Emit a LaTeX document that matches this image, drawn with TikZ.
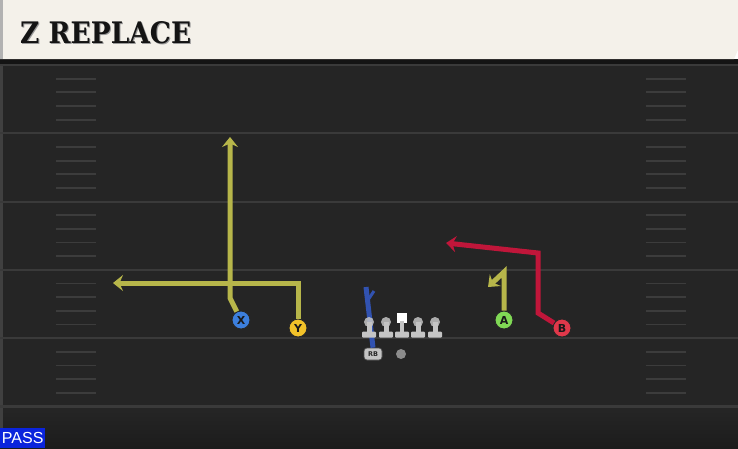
\documentclass[tikz,border=0pt]{standalone}
\usepackage{fontspec}
\setmainfont{DejaVu Sans}
\newfontfamily\titlefont{DejaVu Serif}
\newfontfamily\tagfont{Liberation Sans}
\usepackage{tikz}
\usetikzlibrary{arrows.meta}
\definecolor{fieldgray}{HTML}{252525}
\definecolor{fielddark}{HTML}{1C1C1C}
\definecolor{yardline}{HTML}{3A3A3A}
\definecolor{hashgray}{HTML}{3C3C3C}
\definecolor{cream}{HTML}{F4F1EA}
\definecolor{routeolive}{HTML}{B7B64A}
\definecolor{routered}{HTML}{C0163A}
\definecolor{routeblue}{HTML}{3152B0}
\definecolor{xblue}{HTML}{3C7FDD}
\definecolor{yyellow}{HTML}{F2C229}
\definecolor{agreen}{HTML}{80D955}
\definecolor{bred}{HTML}{E0384A}
\definecolor{passblue}{HTML}{0B24DC}
\definecolor{linegray}{HTML}{C4C4C4}
\tikzset{
  route/.style={line width=5pt,line join=miter,-{Stealth[length=10pt,width=16pt,inset=3.5pt]}},
  player/.style={circle,draw=black!85,line width=0.9pt,minimum size=18pt,inner sep=0pt,
    text=black!90,font=\bfseries\fontsize{11}{11}\selectfont},
  hashmark/.style={draw=hashgray,line width=1.8pt},
  lineman/.style={fill=linegray,draw=none}
}

\begin{document}
\begin{tikzpicture}[x=1pt,y=-1pt]
  \useasboundingbox (0,0) rectangle (738,448);
  % field
  \fill[fieldgray] (0,59) rectangle (738,410);
  \shade[top color=fieldgray,bottom color=fielddark] (0,410) rectangle (738,448);
  \fill[black!92] (0,59) rectangle (738,65);
  \fill[black!75] (0,65) rectangle (2.5,448);
  \foreach \k in {0,...,5}
    \draw[yardline,line width=2.2pt] (0,65+68.3*\k) -- (738,65+68.3*\k);
  \foreach \k in {0,...,4}
    \foreach \j in {1,...,4}{
      \draw[hashmark] (56,65+68.3*\k+13.66*\j) -- (96,65+68.3*\k+13.66*\j);
      \draw[hashmark] (646,65+68.3*\k+13.66*\j) -- (686,65+68.3*\k+13.66*\j);
    }
  % title bar
  \fill[cream] (0,0) -- (738,0) -- (738,50) -- (734,59) -- (0,59) -- cycle;
  \fill[black!30] (0,0) rectangle (3,59);
  \node[anchor=base west,inner sep=0pt,text=black!40] at (21,44)
    {\resizebox{171pt}{22pt}{\titlefont\bfseries Z REPLACE}};
  \node[anchor=base west,inner sep=0pt,text=black!92] (title) at (20,43)
    {\resizebox{171pt}{22pt}{\titlefont\bfseries Z REPLACE}};
  % players
  \node[player,fill=xblue] (X) at (241,320) {X};
  \node[player,fill=yyellow] (Y) at (298,328) {Y};
  \node[player,fill=agreen] (A) at (504,320) {A};
  \node[player,fill=bred] (B) at (562,328) {B};
  \node[fill=linegray,draw=black!70,line width=0.7pt,rounded corners=3pt,minimum width=18pt,
    minimum height=12pt,inner sep=0pt,text=black!85,font=\bfseries\fontsize{6.5}{6.5}\selectfont] (RB) at (373,354) {RB};
  \node[circle,fill=black!45,minimum size=10pt,inner sep=0pt] (QB) at (401,354) {};
  % routes
  \draw[route,routeolive] (X) -- (230,298) -- (230,137);
  \draw[route,routeolive] (Y) -- (298,283) -- (113,283);
  \draw[route,routeolive] (A) -- (504,272) -- (488,287);
  \draw[route,routered] (B) -- (538,313) -- (538,253) -- (446,243);
  \draw[routeblue,line width=5pt] (RB.north) -- (366,287);
  \draw[routeblue,line width=3pt] (368,300) -- (374,291);
  % line
  \foreach \x [count=\i] in {369,386,418,435}{
    \fill[lineman,fill opacity=0.85] (\x,322) circle (5);
    \fill[lineman] (\x-2.5,322) rectangle (\x+2.5,333);
    \fill[lineman,rounded corners=1pt] (\x-7,331.5) rectangle (\x+7,337.5);
  }
  \fill[white] (397,313) rectangle (406.5,322.5);
  \fill[lineman] (399.5,321) rectangle (404,333);
  \fill[lineman,rounded corners=1pt] (395,331.5) rectangle (409,337.5);
  % play type tag
  \node[fill=passblue,text=white,anchor=south west,inner sep=0pt,minimum width=45pt,
    minimum height=20pt,font=\tagfont\fontsize{16}{16}\selectfont] (tag) at (0,448) {PASS};
\end{tikzpicture}
\end{document}
